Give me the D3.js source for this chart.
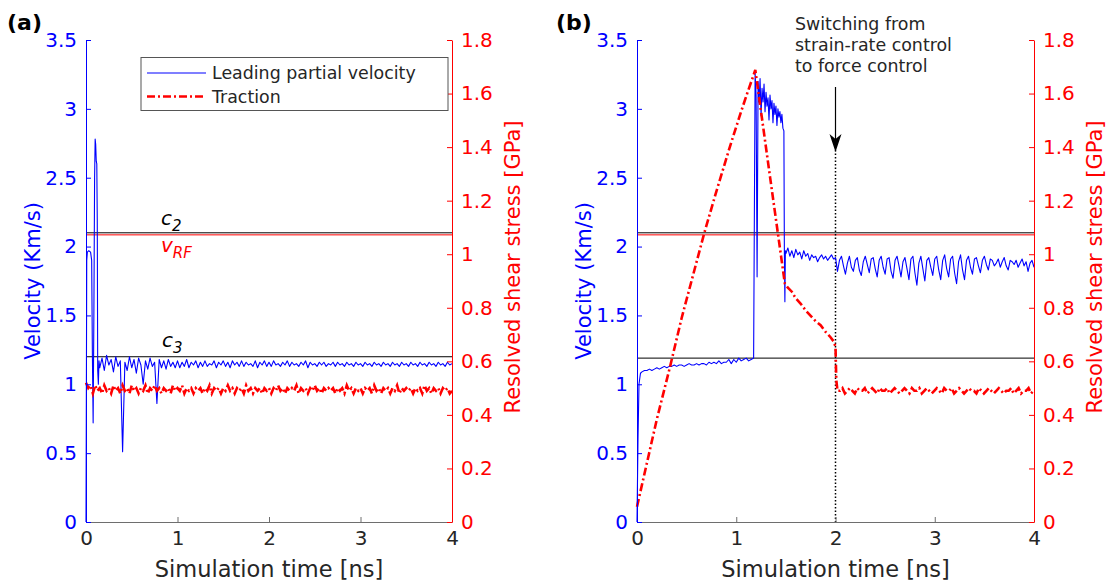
<!DOCTYPE html>
<html><head><meta charset="utf-8">
<script src="https://cdn.jsdelivr.net/npm/d3@7"></script>
<style>
body{margin:0;background:#fff;}
svg{display:block;font-family:"DejaVu Sans",sans-serif;}
</style>
</head><body>
<svg id="chart" width="1108" height="583"></svg>
<script>
// ---------- ticks ----------
const timeTicks = [0, 1, 2, 3, 4];
const velTicks = [0, 0.5, 1, 1.5, 2, 2.5, 3, 3.5];
const stressTicks = [0, 0.2, 0.4, 0.6, 0.8, 1, 1.2, 1.4, 1.6, 1.8];

// ---------- reference lines (km/s) ----------
const c2Vel = 2.10;
const vRFVel = 2.085;
const c3VelA = 1.20;
const c3VelB = 1.19;
const switchTime = 2.0;

// ---------- panel (a) ----------
const velA_startT = [0, 0.008, 0.015, 0.03, 0.05, 0.062, 0.07, 0.078, 0.086, 0.094, 0.1, 0.106, 0.112, 0.118, 0.123, 0.128, 0.135, 0.142];
const velA_startV = [0, 1.90, 1.96, 1.97, 1.96, 1.90, 1.20, 0.72, 1.50, 2.50, 2.78, 2.74, 2.62, 2.60, 2.20, 1.10, 1.00, 1.17];
const velA_steadyT0 = 0.15, velA_steadyDt = 0.025;
const velA_steady = [
  1.12,1.19,1.10,1.21,1.14,1.18,1.09,1.20,1.13,1.17,
  0.51,1.16,1.10,1.20,1.12,1.18,1.08,1.19,1.14,1.00,
  1.17,1.11,1.19,1.13,1.16,0.86,1.18,1.12,1.17,1.11,
  1.18,1.13,1.16,1.12,
  1.17,1.12,1.16,1.13,1.18,1.12,1.16,1.14,1.17,1.12,
  1.16,1.13,1.17,1.13,1.15,1.14,1.17,1.12,1.16,1.14,
  1.17,1.13,1.16,1.12,1.17,1.14,1.16,1.13,1.17,1.13,
  1.16,1.14,1.15,1.13,1.17,1.12,1.16,1.14,1.17,1.13,
  1.16,1.13,1.17,1.14,1.15,1.13,1.16,1.14,1.17,1.13,
  1.16,1.14,1.15,1.13,1.16,1.14,1.17,1.12,1.16,1.14,
  1.15,1.13,1.16,1.14,1.16,1.13,1.15,1.14,1.16,1.13,
  1.16,1.14,1.15,1.13,1.16,1.14,1.15,1.13,1.16,1.14,
  1.15,1.13,1.16,1.14,1.15,1.13,1.16,1.14,1.15,1.13,
  1.16,1.14,1.15,1.13,1.16,1.14,1.15,1.13,1.16,1.14,
  1.15,1.13,1.16,1.14,1.15,1.13,1.16,1.14,1.15,1.13,
  1.16,1.14,1.15,1.13,1.16,1.14,1.15,1.13,1.16,1.14,
  1.15
];
const tracA_T0 = 0, tracA_Dt = 0.025;
const tracA = [
  0.52,0.50,0.51,0.48,0.51,0.49,0.50,0.48,0.51,0.49,
  0.50,0.48,0.51,0.49,0.50,0.48,0.51,0.49,0.50,0.48,
  0.51,0.49,0.50,0.48,0.50,0.49,0.51,0.48,0.50,0.49,
  0.51,0.49,0.50,0.48,0.50,0.49,0.50,0.48,0.51,0.49,
  0.50,0.49,0.51,0.48,0.50,0.49,0.50,0.48,0.50,0.49,
  0.50,0.48,0.50,0.49,0.51,0.48,0.50,0.49,0.50,0.48,
  0.50,0.49,0.51,0.49,0.50,0.48,0.50,0.49,0.50,0.48,
  0.51,0.49,0.50,0.48,0.50,0.49,0.50,0.48,0.50,0.49,
  0.50,0.48,0.50,0.49,0.51,0.49,0.50,0.48,0.50,0.49,
  0.50,0.49,0.51,0.48,0.50,0.49,0.50,0.48,0.50,0.49,
  0.51,0.49,0.50,0.48,0.50,0.49,0.50,0.49,0.50,0.48,
  0.50,0.49,0.50,0.48,0.51,0.49,0.50,0.48,0.50,0.49,
  0.50,0.48,0.50,0.49,0.50,0.48,0.51,0.49,0.50,0.48,
  0.50,0.49,0.50,0.48,0.50,0.49,0.51,0.48,0.50,0.49,
  0.50,0.49,0.50,0.48,0.50,0.49,0.50,0.48,0.51,0.49,
  0.50,0.48,0.50,0.49,0.50,0.48,0.50,0.49,0.50,0.48,
  0.49
];

// ---------- panel (b) ----------
const velB_startT = [0, 0.01, 0.02, 0.035];
const velB_startV = [0, 0.60, 1.00, 1.08];
const velB_rampT0 = 0.05, velB_rampDt = 0.025;
const velB_ramp = [
  1.09,1.10,1.10,1.11,1.10,1.11,1.12,1.11,1.12,1.13,
  1.12,1.13,1.13,1.14,1.13,1.14,1.14,1.13,1.14,1.15,
  1.14,1.14,1.15,1.14,1.15,1.15,1.14,1.16,1.15,1.16,
  1.15,1.17,1.15,1.16,1.16,1.18,1.15,1.18,1.16,1.19,
  1.17,1.18,1.19,1.17,1.18,1.19
];
const velB_highT0 = 1.19, velB_highDt = 0.01;
const velB_high = [
  3.26,3.10,1.78,3.20,3.05,3.22,2.95,3.15,3.05,3.18,
  2.98,3.12,3.02,3.08,2.92,3.10,3.00,3.06,2.90,3.04,
  2.96,3.02,2.88,3.00,2.94,2.98,2.90,2.96,2.86
];
const velB_dropT = [1.48, 1.485, 1.49, 1.495];
const velB_dropV = [2.84, 1.95, 1.60, 1.97];
const velB_midT0 = 1.5, velB_midDt = 0.02;
const velB_mid = [
  1.95,1.99,1.93,1.97,1.92,1.98,1.94,1.96,1.91,1.97,
  1.93,1.95,1.90,1.94,1.92,1.93,1.89,1.92,1.94,1.91,
  1.93,1.90,1.92,1.94,1.91
];
const velB_lateT0 = 2.0, velB_lateDt = 0.02;
const velB_late = [
  1.92,1.82,1.90,1.93,1.86,1.80,1.88,1.93,1.85,1.82,
  1.90,1.92,1.83,1.79,1.89,1.93,1.87,1.81,1.91,1.92,
  1.84,1.78,1.90,1.93,1.85,1.80,1.91,1.92,1.82,1.77,
  1.90,1.93,1.86,1.78,1.89,1.92,1.84,1.76,1.91,1.93,
  1.81,1.72,1.88,1.93,1.84,1.75,1.90,1.92,1.85,1.79,
  1.91,1.93,1.83,1.76,1.90,1.94,1.84,1.78,1.91,1.93,
  1.81,1.73,1.89,1.94,1.83,1.76,1.90,1.93,1.85,1.80,
  1.91,1.92,1.86,1.81,1.90,1.93,1.87,1.83,1.91,1.90,
  1.86,1.88,1.91,1.85,1.89,1.92,1.86,1.83,1.90,1.89,
  1.87,1.90,1.85,1.88,1.91,1.86,1.89,1.82,1.88,1.90,
  1.85
];
const tracB_loadT = [0, 0.2, 0.333, 0.45, 0.552, 0.677, 0.8, 0.939, 1.05, 1.108, 1.192, 1.34, 1.49, 1.52, 1.56, 1.60, 1.65, 1.70, 1.75, 1.80, 1.85, 1.90, 1.95, 1.98, 2.0, 2.008, 2.02];
const tracB_loadV = [0.057, 0.384, 0.58, 0.762, 0.904, 1.078, 1.235, 1.405, 1.534, 1.598, 1.688, 1.29, 0.89, 0.875, 0.86, 0.835, 0.815, 0.79, 0.77, 0.75, 0.735, 0.71, 0.69, 0.675, 0.655, 0.53, 0.49];
const tracB_holdT0 = 2.045, tracB_holdDt = 0.025;
const tracB_hold = [
  0.49,0.50,0.48,0.49,0.50,0.49,0.48,0.50,0.49,0.49,
  0.50,0.48,0.49,0.50,0.49,0.48,0.50,0.49,0.49,0.50,
  0.48,0.49,0.50,0.49,0.48,0.49,0.50,0.49,0.48,0.50,
  0.49,0.49,0.50,0.48,0.49,0.50,0.49,0.48,0.49,0.50,
  0.49,0.48,0.50,0.49,0.49,0.50,0.48,0.49,0.50,0.49,
  0.48,0.49,0.50,0.49,0.49,0.48,0.50,0.49,0.48,0.49,
  0.50,0.49,0.48,0.49,0.50,0.49,0.48,0.49,0.49,0.50,
  0.48,0.49,0.50,0.48,0.49,0.49,0.50,0.48,0.49
];

// ---------- helpers ----------
function pairs(ts, vs) { return ts.map((t, i) => [t, vs[i]]); }
function grid(t0, dt, vs) { return vs.map((v, i) => [+(t0 + i * dt).toFixed(4), v]); }

const velA = pairs(velA_startT, velA_startV).concat(grid(velA_steadyT0, velA_steadyDt, velA_steady));
const tracAData = grid(tracA_T0, tracA_Dt, tracA);
const velB = pairs(velB_startT, velB_startV)
  .concat(grid(velB_rampT0, velB_rampDt, velB_ramp))
  .concat(grid(velB_highT0, velB_highDt, velB_high))
  .concat(pairs(velB_dropT, velB_dropV))
  .concat(grid(velB_midT0, velB_midDt, velB_mid))
  .concat(grid(velB_lateT0, velB_lateDt, velB_late));
const tracBData = pairs(tracB_loadT, tracB_loadV).concat(grid(tracB_holdT0, tracB_holdDt, tracB_hold));

const svg = d3.select("#chart");
const BLUE = "#0000ff", RED = "#ff0000", INK = "#262626";
const TOP = 40, BOTTOM = 522;

function fmt(d) { return d3.format("")(+d.toFixed(1)); }

function panel(o) {
  const x = d3.scaleLinear().domain([0, 4]).range([o.x0, o.x1]);
  const yV = d3.scaleLinear().domain([0, 3.5]).range([BOTTOM, TOP]);
  const yS = d3.scaleLinear().domain([0, 1.8]).range([BOTTOM, TOP]);
  const g = svg.append("g");

  const hline = (v, col) => g.append("line")
    .attr("x1", o.x0).attr("x2", o.x1)
    .attr("y1", yV(v)).attr("y2", yV(v))
    .attr("stroke", col).attr("stroke-width", 1);
  hline(o.c2, "#000");
  hline(o.vRF, RED);
  hline(o.c3, "#000");

  if (o.dotted) {
    g.append("line").attr("x1", x(switchTime)).attr("x2", x(switchTime))
      .attr("y1", 150).attr("y2", BOTTOM)
      .attr("stroke", "#000").attr("stroke-width", 1.5).attr("stroke-dasharray", "1.5,2");
  }

  const lineV = d3.line().x(d => x(d[0])).y(d => yV(d[1]));
  const lineS = d3.line().x(d => x(d[0])).y(d => yS(d[1]));

  g.append("path").datum(o.vel).attr("d", lineV)
    .attr("fill", "none").attr("stroke", BLUE).attr("stroke-width", 1.1).attr("stroke-linejoin", "round");
  g.append("path").datum(o.trac).attr("d", lineS)
    .attr("fill", "none").attr("stroke", RED).attr("stroke-width", 2.6)
    .attr("stroke-dasharray", "8,3,2,3");

  const xAxis = d3.axisBottom(x).tickValues(timeTicks).tickSizeInner(-5).tickSizeOuter(0).tickPadding(9).tickFormat(d3.format("d"));
  const gx = g.append("g").attr("transform", `translate(0,${BOTTOM})`).call(xAxis);
  gx.select(".domain").attr("stroke", "#6e6e6e");
  gx.selectAll(".tick line").attr("stroke", "#6e6e6e");
  gx.selectAll("text").attr("fill", INK).attr("font-size", 20).attr("font-family", "DejaVu Sans");

  const lAxis = d3.axisLeft(yV).tickValues(velTicks).tickSizeInner(-5).tickSizeOuter(0).tickPadding(9).tickFormat(fmt);
  const gl = g.append("g").attr("transform", `translate(${o.x0},0)`).call(lAxis);
  gl.select(".domain").attr("stroke", BLUE);
  gl.selectAll(".tick line").attr("stroke", BLUE);
  gl.selectAll("text").attr("fill", BLUE).attr("font-size", 20).attr("font-family", "DejaVu Sans");

  const rAxis = d3.axisRight(yS).tickValues(stressTicks).tickSizeInner(-5).tickSizeOuter(0).tickPadding(9).tickFormat(fmt);
  const gr = g.append("g").attr("transform", `translate(${o.x1},0)`).call(rAxis);
  gr.select(".domain").attr("stroke", RED);
  gr.selectAll(".tick line").attr("stroke", RED);
  gr.selectAll("text").attr("fill", RED).attr("font-size", 20).attr("font-family", "DejaVu Sans");

  g.append("text").attr("x", (o.x0 + o.x1) / 2).attr("y", 577)
    .attr("text-anchor", "middle").attr("font-size", 22.5).attr("fill", INK)
    .text("Simulation time [ns]");
  g.append("text").attr("transform", `translate(${o.lt},281) rotate(-90)`)
    .attr("text-anchor", "middle").attr("dy", "0.35em").attr("font-size", 21).attr("fill", BLUE)
    .text("Velocity (Km/s)");
  g.append("text").attr("transform", `translate(${o.rt},267) rotate(-90)`)
    .attr("text-anchor", "middle").attr("dy", "0.35em").attr("font-size", 21).attr("fill", RED)
    .text("Resolved shear stress [GPa]");
  g.append("text").attr("x", o.tagX).attr("y", 30)
    .attr("font-size", 22).attr("font-weight", "bold").attr("fill", "#000")
    .text(o.tag);
  return { g, x, yV, yS };
}

// ---- panel (a)
const pa = panel({ x0: 86, x1: 452, vel: velA, trac: tracAData, c2: c2Vel, vRF: vRFVel, c3: c3VelA,
  lt: 33, rt: 513, tag: "(a)", tagX: 7 });

function symLabel(g, xpos, ypos, main, sub, col) {
  const t = g.append("text").attr("x", xpos).attr("y", ypos)
    .attr("font-size", 20).attr("font-style", "italic").attr("fill", col);
  t.append("tspan").text(main);
  t.append("tspan").attr("font-size", 15).attr("dy", 6).text(sub);
}
symLabel(pa.g, 161, pa.yV(c2Vel) - 8, "c", "2", "#000");
symLabel(pa.g, 161, pa.yV(vRFVel) + 17, "v", "RF", RED);
symLabel(pa.g, 162, pa.yV(c3VelA) - 10, "c", "3", "#000");

// legend
const lg = pa.g.append("g");
lg.append("rect").attr("x", 141).attr("y", 57.5).attr("width", 307).attr("height", 53)
  .attr("fill", "#fff").attr("stroke", "#555").attr("stroke-width", 1);
lg.append("line").attr("x1", 147).attr("x2", 206).attr("y1", 73).attr("y2", 73)
  .attr("stroke", BLUE).attr("stroke-width", 1.1);
lg.append("line").attr("x1", 147).attr("x2", 206).attr("y1", 96.5).attr("y2", 96.5)
  .attr("stroke", RED).attr("stroke-width", 2.6).attr("stroke-dasharray", "8,3,2,3");
lg.append("text").attr("x", 212).attr("y", 79).attr("font-size", 17.4).attr("fill", INK).text("Leading partial velocity");
lg.append("text").attr("x", 212).attr("y", 103).attr("font-size", 17.4).attr("fill", INK).text("Traction");

// ---- panel (b)
const pb = panel({ x0: 637, x1: 1034, vel: velB, trac: tracBData, c2: c2Vel, vRF: vRFVel, c3: c3VelB,
  lt: 584, rt: 1095, tag: "(b)", tagX: 556, dotted: true });

const ann = pb.g.append("text").attr("x", 795).attr("font-size", 17.4).attr("fill", INK);
["Switching from", "strain-rate control", "to force control"].forEach((s, i) => {
  ann.append("tspan").attr("x", 795).attr("y", 30 + i * 21).text(s);
});
const ax = pb.x(switchTime);
pb.g.append("line").attr("x1", ax).attr("x2", ax).attr("y1", 87).attr("y2", 140)
  .attr("stroke", "#000").attr("stroke-width", 1.2);
pb.g.append("path")
  .attr("d", `M${ax},152 L${ax - 6},134 L${ax},139 L${ax + 6},134 Z`)
  .attr("fill", "#000");
</script>
</body></html>
